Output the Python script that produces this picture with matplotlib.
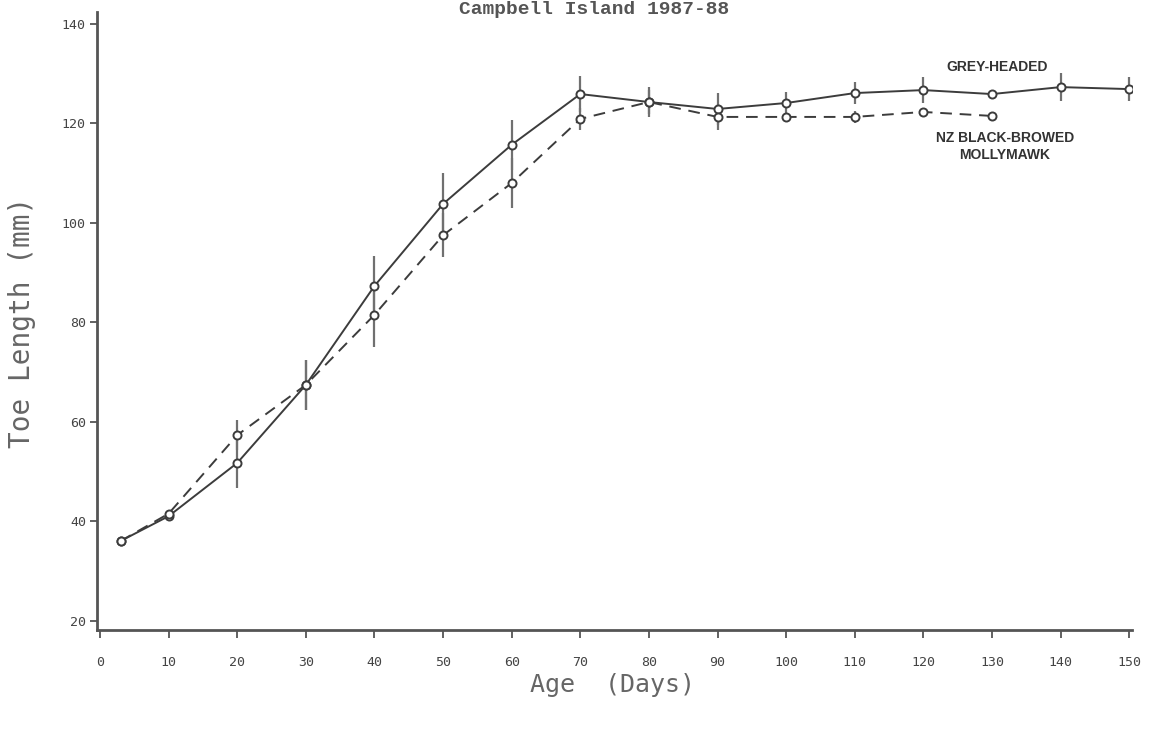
import numpy as np
import matplotlib
matplotlib.use('Agg')
from matplotlib import pyplot as plt

# grey-headed albatross (solid line)
gh_age = [3, 10, 20, 30, 40, 50, 60, 70, 80, 90, 100, 110, 120, 130, 140, 150]
gh_toe = [36, 41, 51.7, 67.4, 87.3, 103.8, 115.7, 125.9, 124.3, 122.9, 124.1, 126.1, 126.7, 125.9, 127.3, 126.9]
gh_err = [0, 0.5, 5, 5, 6, 6.2, 5, 3.6, 3, 3.2, 2.2, 2.2, 2.6, 0, 2.8, 2.4]

# NZ black-browed mollymawk (dashed line)
bb_age = [3, 10, 20, 30, 40, 50, 60, 70, 80, 90, 100, 110, 120, 130]
bb_toe = [36, 41.5, 57.3, 67.4, 81.5, 97.5, 108, 120.9, 124.3, 121.3, 121.3, 121.3, 122.3, 121.5]
bb_err = [0, 0.5, 3, 5, 6.5, 4.4, 5, 2.2, 2.5, 2.6, 0.6, 1.2, 0, 0]

xticks = list(range(0, 151, 10))
yticks = list(range(20, 141, 20))

fig = plt.figure(figsize=(11.52, 7.29), dpi=100)
ax = fig.add_axes([0.0842, 0.1358, 0.8984, 0.8477])

ink = '#3c3c3c'
# error bars first, then lines + markers on top
ax.errorbar(gh_age, gh_toe, yerr=gh_err, fmt='none', ecolor='#707070', elinewidth=1.6, capsize=0)
ax.errorbar(bb_age, bb_toe, yerr=bb_err, fmt='none', ecolor='#707070', elinewidth=1.6, capsize=0)
ax.plot(gh_age, gh_toe, '-', color=ink, lw=1.4, marker='o', ms=5.8, mfc='white', mec=ink, mew=1.4)
ax.plot(bb_age, bb_toe, '--', color=ink, lw=1.4, dashes=(6, 4), marker='o', ms=5.8, mfc='white', mec=ink, mew=1.4)

ax.set_xlim(-0.44, 150.4)
ax.set_ylim(18.1, 142.4)
ax.set_xticks(xticks)
ax.set_yticks(yticks)

for s in ['top', 'right']:
    ax.spines[s].set_visible(False)
for s in ['left', 'bottom']:
    ax.spines[s].set_color('#555555')
    ax.spines[s].set_linewidth(2)

mono = 'DejaVu Sans Mono'
ax.tick_params(axis='y', direction='out', length=5, width=1.3, color='#555555', pad=3, labelsize=9.5, labelcolor='#444444')
ax.tick_params(axis='x', direction='out', length=6, width=1.3, color='#555555', pad=13, labelsize=9.5, labelcolor='#444444')
for lab in ax.get_xticklabels() + ax.get_yticklabels():
    lab.set_family(mono)

ax.text(130.8, 131.3, 'GREY-HEADED', ha='center', va='center', fontsize=10,
        fontweight='bold', family='Liberation Sans', color='#333333')
ax.text(131.9, 115.3, 'NZ BLACK-BROWED\nMOLLYMAWK', ha='center', va='center', fontsize=10,
        fontweight='bold', family='Liberation Sans', color='#333333', linespacing=1.3)

fig.text(0.0191, 0.558, 'Toe Length (mm)', rotation=90, ha='center', va='center',
         fontsize=20, family=mono, color='#666666')
fig.text(0.532, 0.060, 'Age  (Days)', ha='center', va='center',
         fontsize=18, family=mono, color='#666666')
fig.text(0.516, 0.999, 'Campbell Island 1987-88', ha='center', va='top',
         fontsize=14, family='Liberation Mono', fontweight='bold', color='#555555')

fig.savefig('out.png', dpi=100)
